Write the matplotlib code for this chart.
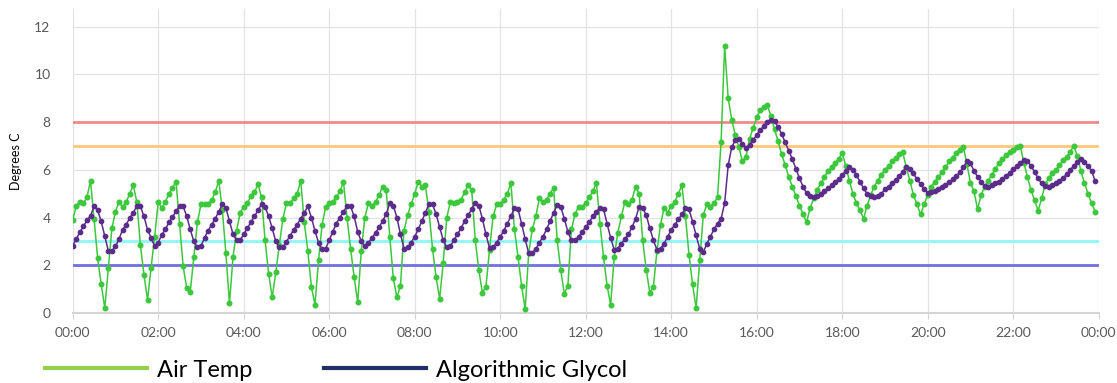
"""
Air temp vs algorithmic glycol over one day (5 minute samples)
"""

import numpy as np
import matplotlib.pyplot as plt

plt.rcParams['font.family'] = ['Lato', 'DejaVu Sans']

# 5-minute readings, one row per hour (00:00 .. 23:55)
air_temp = [
    3.9, 4.5, 4.65, 4.6, 4.85, 5.55, 3.95, 2.3, 1.2, 0.2, 1.9, 3.55,
    4.25, 4.65, 4.45, 4.65, 5.0, 5.35, 4.65, 2.85, 1.6, 0.55, 1.9, 3.2,
    4.65, 4.4, 4.65, 5.0, 5.25, 5.5, 3.75, 1.95, 1.05, 0.9, 2.35, 3.8,
    4.55, 4.55, 4.55, 4.75, 5.05, 5.55, 4.3, 2.5, 0.4, 2.35, 3.45, 4.2,
    4.45, 4.6, 4.9, 5.05, 5.4, 4.85, 3.05, 1.65, 0.65, 1.7, 2.85, 3.95,
    4.6, 4.6, 4.8, 5.0, 5.55, 3.8, 2.6, 1.1, 0.35, 2.2, 3.7, 4.45,
    4.6, 4.65, 4.85, 5.1, 5.5, 4.0, 2.7, 1.5, 0.45, 2.6, 4.0, 4.6,
    4.5, 4.65, 4.95, 5.3, 5.15, 3.2, 1.45, 0.65, 1.15, 3.45, 4.1, 4.55,
    5.0, 5.5, 5.3, 5.35, 4.25, 2.7, 1.5, 0.6, 2.1, 4.0, 4.65, 4.6,
    4.65, 4.75, 5.05, 5.35, 5.15, 3.05, 1.8, 0.85, 1.1, 2.65, 4.05, 4.55,
    4.55, 4.75, 5.0, 5.45, 3.5, 2.35, 1.15, 0.17, 2.5, 3.5, 4.05, 4.8,
    4.65, 4.75, 5.0, 5.25, 3.05, 1.8, 0.8, 1.15, 3.5, 4.15, 4.45, 4.45,
    4.6, 4.85, 5.1, 5.45, 3.75, 2.35, 1.15, 0.35, 2.35, 3.35, 4.05, 4.65,
    4.55, 4.75, 5.3, 5.0, 3.05, 1.8, 0.85, 1.1, 2.6, 3.7, 4.4, 4.2,
    4.5, 4.65, 5.0, 5.35, 4.05, 2.45, 1.2, 0.2, 2.2, 4.1, 4.55, 4.45,
    4.6, 4.85, 7.15, 11.2, 9.0, 8.1, 7.45, 6.95, 6.35, 6.55, 7.3, 7.75,
    8.2, 8.5, 8.65, 8.7, 8.25, 7.7, 7.2, 6.65, 6.2, 5.7, 5.3, 4.9,
    4.5, 4.15, 3.8, 4.4, 4.8, 5.15, 5.45, 5.7, 5.95, 6.1, 6.3, 6.45,
    6.72, 6.15, 5.55, 5.0, 4.6, 4.3, 3.95, 4.5, 4.95, 5.3, 5.55, 5.8,
    6.0, 6.15, 6.35, 6.5, 6.65, 6.73, 6.1, 5.55, 4.95, 4.55, 4.13, 4.55,
    4.95, 5.3, 5.5, 5.7, 5.9, 6.1, 6.35, 6.5, 6.7, 6.85, 6.97, 6.25,
    5.45, 5.1, 4.35, 4.95, 5.3, 5.55, 5.8, 6.05, 6.27, 6.44, 6.62, 6.75,
    6.85, 6.95, 7.0, 6.3, 5.7, 5.15, 4.73, 4.29, 4.8, 5.4, 5.65, 5.85,
    6.0, 6.2, 6.4, 6.55, 6.75, 7.0, 6.6, 5.95, 5.45, 5.0, 4.6, 4.25,
]

glycol = [
    2.82, 3.1, 3.39, 3.63, 3.88, 4.08, 4.47, 4.3, 3.84, 3.21, 2.6, 2.6,
    2.79, 3.1, 3.49, 3.7, 3.98, 4.19, 4.5, 4.47, 4.05, 3.49, 3.14, 2.8,
    2.95, 3.28, 3.5, 3.8, 4.02, 4.26, 4.5, 4.47, 4.05, 3.5, 3.0, 2.75,
    2.8, 3.15, 3.45, 3.7, 3.95, 4.25, 4.55, 4.4, 3.85, 3.3, 3.05, 3.05,
    3.3, 3.55, 3.8, 4.05, 4.3, 4.55, 4.45, 4.05, 3.55, 3.0, 2.75, 2.75,
    2.99, 3.23, 3.48, 3.7, 3.95, 4.2, 4.47, 4.0, 3.45, 2.95, 2.68, 2.7,
    3.05, 3.4, 3.75, 4.0, 4.25, 4.47, 4.47, 4.05, 3.4, 3.0, 2.8, 2.95,
    3.15, 3.35, 3.6, 3.85, 4.15, 4.6, 4.5, 4.0, 3.3, 2.7, 2.75, 2.95,
    3.2, 3.5, 3.85, 4.2, 4.57, 4.55, 4.15, 3.6, 3.05, 2.75, 2.8, 3.05,
    3.3, 3.55, 3.85, 4.1, 4.35, 4.6, 4.5, 3.95, 3.3, 2.72, 2.75, 2.95,
    3.2, 3.45, 3.75, 4.05, 4.4, 4.35, 3.75, 3.1, 2.5, 2.52, 2.7, 2.95,
    3.2, 3.5, 3.85, 4.2, 4.53, 4.45, 3.95, 3.4, 3.05, 3.05, 3.2, 3.4,
    3.6, 3.8, 4.05, 4.25, 4.4, 4.35, 3.75, 3.15, 2.65, 2.7, 2.9, 3.1,
    3.3, 3.6, 3.95, 4.45, 4.4, 4.1, 3.55, 3.05, 2.65, 2.7, 2.9, 3.2,
    3.48, 3.7, 3.92, 4.13, 4.39, 4.34, 3.83, 3.25, 2.7, 2.55, 2.9, 3.2,
    3.5, 3.75, 3.95, 4.6, 6.2, 6.95, 7.25, 7.3, 7.1, 6.93, 7.05, 7.25,
    7.46, 7.67, 7.84, 8.0, 8.1, 8.05, 7.8, 7.5, 7.15, 6.8, 6.45, 6.05,
    5.65, 5.3, 5.02, 4.9, 4.88, 4.92, 5.0, 5.1, 5.22, 5.35, 5.48, 5.62,
    5.78, 5.95, 6.12, 6.0, 5.78, 5.5, 5.22, 5.0, 4.9, 4.88, 4.92, 5.0,
    5.18, 5.3, 5.43, 5.57, 5.74, 5.92, 6.13, 6.02, 5.85, 5.6, 5.4, 5.2,
    5.04, 5.06, 5.11, 5.18, 5.27, 5.36, 5.47, 5.6, 5.74, 5.89, 6.1, 6.35,
    6.27, 5.96, 5.71, 5.5, 5.32, 5.29, 5.36, 5.43, 5.5, 5.6, 5.74, 5.88,
    6.02, 6.16, 6.3, 6.41, 6.38, 6.16, 5.92, 5.64, 5.43, 5.32, 5.29, 5.35,
    5.43, 5.52, 5.65, 5.82, 6.0, 6.16, 6.34, 6.44, 6.34, 6.16, 5.96, 5.54,
]

# alarm / warning limits
limits = [8, 7, 3, 2]
limit_colors = ['#f28a8a', '#ffc878', '#8ef7f7', '#7070e0']

tick_hours = list(range(0, 25, 2))
tick_labels = ['%02d:00' % (h % 24) for h in tick_hours]

hours = np.arange(len(air_temp)) * 5 / 60.0

fig = plt.figure(figsize=(11.17, 3.83), dpi=100)
ax = fig.add_axes([0.0651, 0.1828, 0.9185, 0.7937])

for val, col in zip(limits, limit_colors):
    ax.axhline(val, color=col, lw=2.0, zorder=1)

ax.plot(hours, air_temp, '-o', color='#3cc73c', lw=1.1, markersize=3.3, zorder=3)
ax.plot(hours, glycol, '-o', color='#5b2c8a', lw=1.1, markersize=3.1, zorder=4)

ax.set_xlim(0, 24)
ax.set_ylim(0, 12.74)
ax.set_xticks(tick_hours)
ax.set_xticklabels(tick_labels)
ax.set_yticks(range(0, 13, 2))
ax.grid(True, color='#e3e3e3', lw=0.9)
ax.set_axisbelow(True)
for s in ['top', 'right', 'left']:
    ax.spines[s].set_visible(False)
ax.spines['bottom'].set_color('#d4d4d4')
ax.spines['bottom'].set_linewidth(1.5)
ax.tick_params(axis='x', colors='#d4d4d4', labelcolor='#595959', labelsize=10,
               length=4, pad=6)
ax.tick_params(axis='y', length=0, labelcolor='#595959', labelsize=10, pad=16)
ax.set_ylabel('Degrees C', fontsize=9, labelpad=9)

h1, = ax.plot([], [], color='#92d050', lw=3)
h2, = ax.plot([], [], color='#1f2d6b', lw=3)
fig.legend([h1, h2], ['Air Temp', 'Algorithmic Glycol'], loc='lower left',
           bbox_to_anchor=(0.04, 0.006), ncol=2, frameon=False, fontsize=17,
           handlelength=4.35, handletextpad=0.42, columnspacing=3.0,
           borderpad=0, borderaxespad=0)

fig.savefig('out.png', dpi=100)
